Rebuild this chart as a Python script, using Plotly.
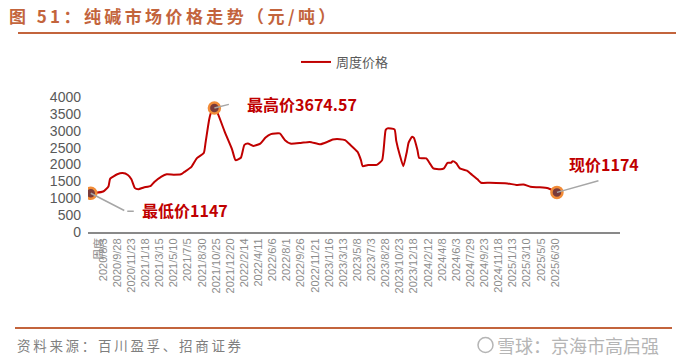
import plotly.graph_objects as go

# ---------------- data ----------------
series_name = "周度价格"

dates = [
    "2020-06-15", "2020-07-06", "2020-08-03", "2020-08-24", "2020-08-31", "2020-09-28",
    "2020-10-19", "2020-11-09", "2020-11-23", "2020-12-07", "2020-12-21", "2021-01-11",
    "2021-02-08", "2021-02-22", "2021-03-22", "2021-04-12", "2021-05-10", "2021-06-07",
    "2021-06-21", "2021-07-19", "2021-08-09", "2021-09-06", "2021-09-13", "2021-09-27",
    "2021-10-04", "2021-10-18", "2021-11-01", "2021-11-29", "2021-12-27", "2022-01-10",
    "2022-01-31", "2022-02-14", "2022-02-28", "2022-03-21", "2022-04-18", "2022-05-09",
    "2022-05-30", "2022-07-04", "2022-07-25", "2022-08-15", "2022-09-26", "2022-10-31",
    "2022-12-12", "2023-01-09", "2023-01-30", "2023-02-27", "2023-03-20", "2023-04-10",
    "2023-05-08", "2023-05-22", "2023-05-29", "2023-06-19", "2023-07-24", "2023-08-14",
    "2023-08-28", "2023-09-04", "2023-10-02", "2023-10-09", "2023-10-23", "2023-11-06",
    "2023-11-20", "2023-11-27", "2023-12-11", "2023-12-18", "2024-01-01", "2024-01-08",
    "2024-02-05", "2024-02-19", "2024-03-04", "2024-04-01", "2024-04-15", "2024-04-29",
    "2024-05-13", "2024-05-20", "2024-06-03", "2024-06-17", "2024-07-15", "2024-08-05",
    "2024-08-26", "2024-09-09", "2024-10-14", "2024-12-23", "2025-01-27", "2025-02-24",
    "2025-03-24", "2025-04-28", "2025-06-02", "2025-07-07",
]

prices = [
    1147, 1160, 1200, 1350, 1580, 1710,
    1745, 1690, 1560, 1300, 1270, 1320,
    1370, 1480, 1640, 1710, 1700, 1710,
    1780, 1930, 2180, 2340, 2650, 3320,
    3520, 3674.57, 3500, 2950, 2450, 2130,
    2200, 2580, 2620, 2550, 2620, 2800,
    2900, 2920, 2720, 2620, 2640, 2670,
    2600, 2670, 2740, 2750, 2720, 2580,
    2380, 2130, 1950, 1985, 1990, 2130,
    3020, 3070, 3040, 2700, 2280, 1950,
    2380, 2650, 2825, 2790, 2430, 2190,
    2180, 2035, 1885, 1860, 1885, 2050,
    2050, 2100, 2035, 1885, 1815, 1690,
    1560, 1460, 1460, 1440, 1395, 1410,
    1340, 1325, 1295, 1174,
]

tick_dates = [
    "2020-08-03", "2020-09-28", "2020-11-23", "2021-01-18", "2021-03-15", "2021-05-10",
    "2021-07-05", "2021-08-30", "2021-10-25", "2021-12-20", "2022-02-14", "2022-04-11",
    "2022-06-06", "2022-08-01", "2022-09-26", "2022-11-21", "2023-01-16", "2023-03-13",
    "2023-05-08", "2023-07-03", "2023-08-28", "2023-10-23", "2023-12-18", "2024-02-12",
    "2024-04-08", "2024-06-03", "2024-07-29", "2024-09-23", "2024-11-18", "2025-01-13",
    "2025-03-10", "2025-05-05", "2025-06-30",
]
tick_labels = [
    "2020/8/3", "2020/9/28", "2020/11/23", "2021/1/18", "2021/3/15", "2021/5/10",
    "2021/7/5", "2021/8/30", "2021/10/25", "2021/12/20", "2022/2/14", "2022/4/11",
    "2022/6/6", "2022/8/1", "2022/9/26", "2022/11/21", "2023/1/16", "2023/3/13",
    "2023/5/8", "2023/7/3", "2023/8/28", "2023/10/23", "2023/12/18", "2024/2/12",
    "2024/4/8", "2024/6/3", "2024/7/29", "2024/9/23", "2024/11/18", "2025/1/13",
    "2025/3/10", "2025/5/5", "2025/6/30",
]

title_text = "图 51：纯碱市场价格走势（元/吨）"
source_text = "资料来源：百川盈孚、招商证券"
watermark_text = "雪球：京海市高启强"

# ---------------- figure geometry (page pixels; body margin removed) ----------------
W, H = 692, 364
PLOT_L, PLOT_R, PLOT_T, PLOT_B = 88, 620, 97, 232
L, R, T, B = PLOT_L, W - PLOT_R, PLOT_T, H - PLOT_B
PW, PH = W - L - R, H - T - B

def px(x):
    return (x - PLOT_L) / PW

def py(y):
    return (PLOT_B - y) / PH

def spaced(s, sep="\u2009"):
    return sep.join(list(s))

LINE_RED = "#C00000"
TITLE_COL = "#C3643C"
CONNECT = "#A6A6A6"
ANN_RED = "#C00000"
CJK = "Noto Sans CJK SC, sans-serif"

fig = go.Figure()
fig.add_trace(go.Scatter(
    x=dates, y=prices, mode="lines", name=series_name,
    line=dict(color=LINE_RED, width=2, shape="spline", smoothing=0.5),
    hoverinfo="x+y",
))

i_min = prices.index(min(prices))
i_max = prices.index(max(prices))
i_cur = len(prices) - 1
sp_idx = [i_min, i_max, i_cur]
fig.add_trace(go.Scatter(
    x=[dates[i] for i in sp_idx], y=[prices[i] for i in sp_idx],
    mode="markers", showlegend=False,
    marker=dict(size=11, color="#7A3B3B", line=dict(color="#F28C38", width=2.5)),
))

ann = []
font_ann = dict(family=CJK, size=16, color=ANN_RED)

# highest
ann.append(dict(x=dates[i_max], y=prices[i_max], text="", showarrow=True, arrowhead=0,
                arrowwidth=1.5, arrowcolor=CONNECT, ax=16, ay=-4))
ann.append(dict(x=dates[i_max], y=prices[i_max], text="<b>最高价%g</b>" % prices[i_max],
                showarrow=False, xanchor="left", yanchor="middle", xshift=31, yshift=4, font=font_ann))
# lowest
ann.append(dict(x=dates[i_min], y=prices[i_min], text="", showarrow=True, arrowhead=0,
                arrowwidth=1.5, arrowcolor=CONNECT, ax=35, ay=18))
ann.append(dict(x=dates[i_min], y=prices[i_min], text="", showarrow=True, arrowhead=0,
                arrowwidth=1.5, arrowcolor=CONNECT, ax=-8, ay=0, xshift=43, yshift=-18))
ann.append(dict(x=dates[i_min], y=prices[i_min], text="<b>最低价%g</b>" % prices[i_min],
                showarrow=False, xanchor="left", yanchor="middle", xshift=49, yshift=-17, font=font_ann))
# current
ann.append(dict(x=dates[i_cur], y=prices[i_cur], text="", showarrow=True, arrowhead=0,
                arrowwidth=1.5, arrowcolor=CONNECT, ax=43, ay=-12))
ann.append(dict(x=dates[i_cur], y=prices[i_cur], text="<b>现价%g</b>" % prices[i_cur],
                showarrow=False, xanchor="left", yanchor="middle", xshift=10, yshift=28, font=font_ann))

# "周度" overlapping the first tick label
ann.append(dict(xref="paper", yref="paper", x=px(98), y=py(236), text="周度", textangle=-90,
                showarrow=False, xanchor="center", yanchor="top",
                font=dict(family=CJK, size=11, color="#8C8C8C")))

# title
ann.append(dict(xref="paper", yref="paper", x=px(7), y=py(16), text="<b>" + spaced(title_text) + "</b>",
                showarrow=False, xanchor="left", yanchor="middle",
                font=dict(family=CJK, size=17, color=TITLE_COL)))
# source
ann.append(dict(xref="paper", yref="paper", x=px(15), y=py(345), text=spaced(source_text),
                showarrow=False, xanchor="left", yanchor="middle",
                font=dict(family=CJK, size=13.5, color="#7F7F7F")))
# watermark
ann.append(dict(xref="paper", yref="paper", x=px(495), y=py(345), text=watermark_text,
                showarrow=False, xanchor="left", yanchor="middle",
                font=dict(family=CJK, size=18, color="#B5B5B5")))

shapes = [
    dict(type="line", xref="paper", yref="paper", x0=px(18), x1=px(676), y0=py(33), y1=py(33),
         line=dict(color=TITLE_COL, width=2)),
    dict(type="line", xref="paper", yref="paper", x0=px(15), x1=px(672), y0=py(328), y1=py(328),
         line=dict(color=TITLE_COL, width=2)),
    dict(type="circle", xref="paper", yref="paper", x0=px(478), x1=px(493), y0=py(352.5), y1=py(337.5),
         line=dict(color="#B5B5B5", width=1.5)),
]

fig.update_layout(
    width=W, height=H,
    margin=dict(l=L, r=R, t=T, b=B, autoexpand=False),
    paper_bgcolor="white", plot_bgcolor="white",
    font=dict(family="Liberation Sans, Arial, sans-serif", color="#595959"),
    showlegend=True,
    legend=dict(orientation="h", x=px(296), y=py(62), xanchor="left", yanchor="middle",
                font=dict(family=CJK, size=13, color="#595959"),
                bgcolor="rgba(0,0,0,0)"),
    annotations=ann,
    shapes=shapes,
    xaxis=dict(
        type="date", range=["2020-06-04", "2026-03-14"],
        tickmode="array", tickvals=tick_dates, ticktext=tick_labels, tickangle=-90,
        tickfont=dict(family="Liberation Sans, Arial, sans-serif", size=11, color="#8C8C8C"),
        showline=True, linecolor="#898989", linewidth=2, showgrid=False, zeroline=False,
        ticks="", ticklen=0, automargin=False,
    ),
    yaxis=dict(
        range=[0, 4000], dtick=500, tick0=0,
        tickfont=dict(family="Liberation Sans, Arial, sans-serif", size=14, color="#595959"),
        showline=False, showgrid=False, zeroline=False, ticks="", ticklabelstandoff=6,
        automargin=False,
    ),
)

fig.write_html("out.html", config={"displayModeBar": False},
               post_script="document.body.style.margin='0px';")
